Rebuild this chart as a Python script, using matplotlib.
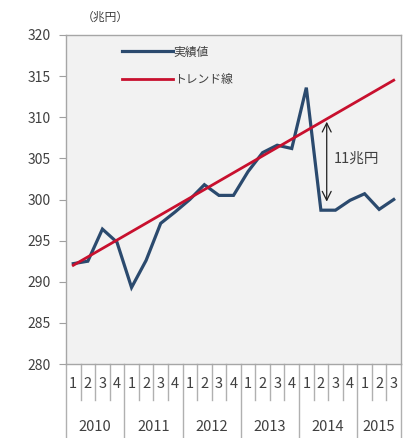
import matplotlib
matplotlib.use("Agg")
import matplotlib.pyplot as plt
import numpy as np

plt.rcParams['font.family'] = ['Noto Sans CJK JP', 'DejaVu Sans']

# Quarterly actual values (兆円), 2010Q1 .. 2015Q3
quarters = [1, 2, 3, 4] * 5 + [1, 2, 3]
years = ['2010', '2011', '2012', '2013', '2014', '2015']
actual = [292.2, 292.5, 296.4, 294.8, 289.3, 292.6, 297.1, 298.5, 300.0, 301.8,
          300.5, 300.5, 303.4, 305.7, 306.6, 306.2, 313.6, 298.7, 298.7, 299.9,
          300.7, 298.8, 300.0]
trend_start, trend_end = 292.0, 314.5
gap_label = '11兆円'

n = len(actual)
x = np.arange(n)
trend = np.linspace(trend_start, trend_end, n)

fig = plt.figure(figsize=(4.03, 4.38), dpi=100)
ax = fig.add_axes([66/403, 1-364/438, 335/403, 329/438])
ax.set_facecolor('#f2f2f2')

ax.plot(x, actual, color='#2b4a6e', lw=2.3, label='実績値', solid_joinstyle='miter')
ax.plot(x, trend, color='#c8102e', lw=2.0, label='トレンド線')

ax.set_xlim(-0.5, n - 0.5)
ax.set_ylim(280, 320)
ax.set_yticks(np.arange(280, 321, 5))
ax.tick_params(axis='y', direction='out', length=5, color='#a0a0a0',
               labelsize=10, labelcolor='#404040', pad=6)
ax.set_xticks([])
for s in ax.spines.values():
    s.set_color('#a6a6a6')
    s.set_linewidth(1.0)

# gap arrow between trend and actual
xa = 17.4
ya_top = trend_start + (trend_end - trend_start) * xa / (n - 1)
ax.annotate('', xy=(xa, 299.4), xytext=(xa, ya_top),
            arrowprops=dict(arrowstyle='<->', color='#202020', lw=0.9,
                            mutation_scale=16))
ax.text(17.9, 305.0, gap_label, fontsize=10.5, color='#404040',
        va='center', ha='left')

# unit label
fig.text(82/403, 1-17/438, '（兆円）', fontsize=8.5, color='#404040',
         va='center', ha='left')

# legend
leg = ax.legend(loc='upper left', bbox_to_anchor=(0.135, 1.0), frameon=False,
                fontsize=8.5, handlelength=4.3, labelspacing=1.2,
                handletextpad=0.1, labelcolor='#404040')

# multi-level category axis
trans = ax.get_xaxis_transform()
sep_col = '#b0b0b0'
for i, q in enumerate(quarters):
    ax.text(i, -0.06, str(q), transform=trans, ha='center', va='center',
            fontsize=10.5, color='#404040', clip_on=False)
for i in range(n + 1):
    is_year = (i % 4 == 0) or i == n
    y0 = -0.23 if is_year else -0.11
    ax.plot([i - 0.5, i - 0.5], [0, y0], transform=trans, color=sep_col,
            lw=1.0, clip_on=False)
for k, yr in enumerate(years):
    start = 4 * k
    end = min(4 * k + 3, n - 1)
    ax.text((start + end) / 2, -0.19, yr, transform=trans, ha='center',
            va='center', fontsize=10.5, color='#404040', clip_on=False)

fig.savefig('out.png', dpi=100, facecolor='white')
